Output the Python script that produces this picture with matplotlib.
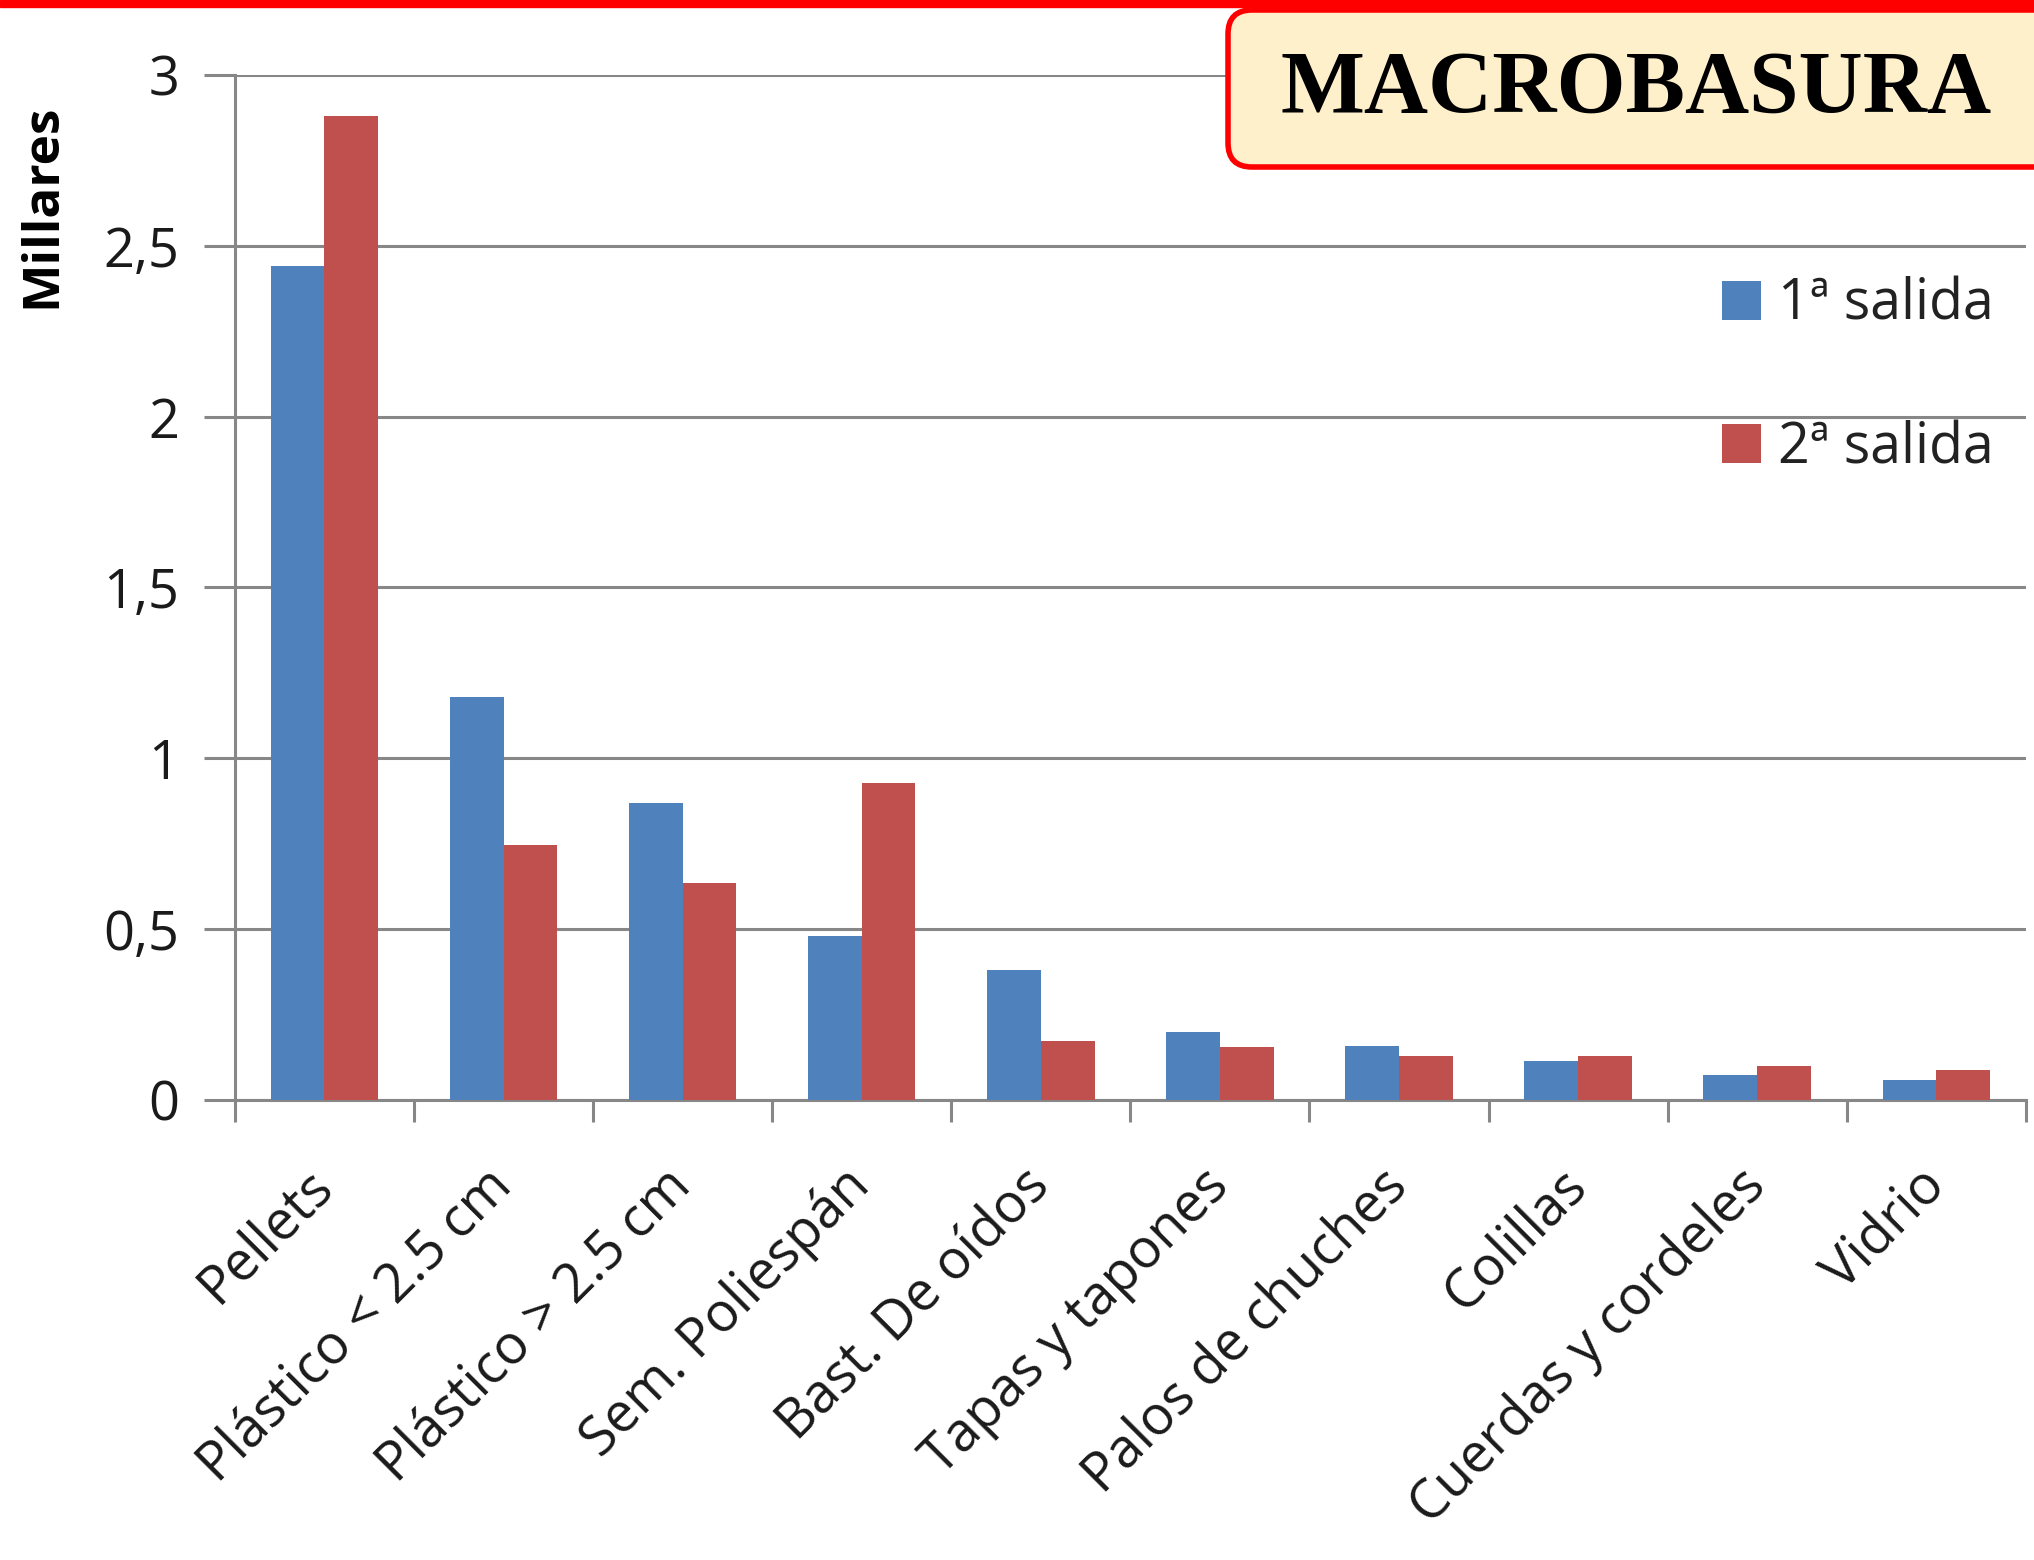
import matplotlib
matplotlib.use("Agg")
import matplotlib.pyplot as plt
import numpy as np
from matplotlib.patches import FancyBboxPatch, Rectangle
from matplotlib.transforms import IdentityTransform

# Datos (miles de objetos)
categorias = ['Pellets', 'Plástico < 2.5 cm', 'Plástico > 2.5 cm', 'Sem. Poliespán',
              'Bast. De oídos', 'Tapas y tapones', 'Palos de chuches', 'Colillas',
              'Cuerdas y cordeles', 'Vidrio']
salida_1 = [2.44, 1.18, 0.87, 0.48, 0.38, 0.197, 0.157, 0.113, 0.072, 0.058]
salida_2 = [2.88, 0.745, 0.634, 0.927, 0.171, 0.156, 0.127, 0.127, 0.100, 0.086]
series = ['1ª salida', '2ª salida']
ticks_y = [0, 0.5, 1, 1.5, 2, 2.5, 3]
etiquetas_y = ['0', '0,5', '1', '1,5', '2', '2,5', '3']

azul = '#4F81BD'
rojo = '#C0504D'
gris = '#878787'

plt.rcParams['font.family'] = ['Open Sans', 'DejaVu Sans']

fig = plt.figure(figsize=(20.34, 15.6), dpi=100)
ax = fig.add_axes([0.1155, 0.295, 0.8805, 0.657])

x = np.arange(len(categorias))
ancho = 0.3
ax.bar(x - ancho / 2, salida_1, ancho, color=azul, label=series[0], zorder=3)
ax.bar(x + ancho / 2, salida_2, ancho, color=rojo, label=series[1], zorder=3)

ax.set_xlim(-0.5, len(categorias) - 0.5)
ax.set_ylim(0, 3)
ax.set_yticks(ticks_y)
ax.set_yticklabels(etiquetas_y, fontsize=39, color='#1a1a1a')
ax.tick_params(axis='y', length=22, width=2.2, color=gris, pad=18)

# Etiquetas en el centro, marcas en los limites de cada categoria
ax.set_xticks(x)
ax.set_xticklabels(categorias, fontsize=39, rotation=45, ha='right',
                   va='center', rotation_mode='anchor', color='#1a1a1a')
ax.tick_params(axis='x', which='major', length=0, pad=56)
ax.set_xticks(np.arange(-0.5, len(categorias)), minor=True)
ax.tick_params(axis='x', which='minor', length=16, width=2.2, color=gris)

ax.grid(axis='y', color=gris, linewidth=2.2, zorder=0)
for lado in ['top', 'right']:
    ax.spines[lado].set_visible(False)
for lado in ['left', 'bottom']:
    ax.spines[lado].set_color(gris)
    ax.spines[lado].set_linewidth(2.2)

leg = ax.legend(loc='upper left', bbox_to_anchor=(0.815, 0.83), frameon=False,
                fontsize=40, handlelength=0.7, handleheight=0.7,
                handletextpad=0.3, labelspacing=1.55, borderpad=0)
for t in leg.get_texts():
    t.set_color('#222222')

fig.text(0.021, 0.868, 'Millares', rotation=90, ha='center', va='center',
         fontsize=37, fontweight='bold')

# Linea roja superior y recuadro del titulo
fig.add_artist(Rectangle((0, 1553), 2034, 7, color='#FF0000',
                         transform=IdentityTransform(), zorder=5))
fig.add_artist(FancyBboxPatch((1228, 1393), 900, 157,
                              boxstyle='round,pad=0,rounding_size=24',
                              facecolor='#FFF0CC', edgecolor='#FF0000',
                              linewidth=4, transform=IdentityTransform(), zorder=6))
fig.text(1636 / 2034, 1 - 90 / 1560, 'MACROBASURA', ha='center', va='center',
         fontsize=64, fontweight='bold', family='Liberation Serif', zorder=7)

fig.savefig('out.png', dpi=100)
